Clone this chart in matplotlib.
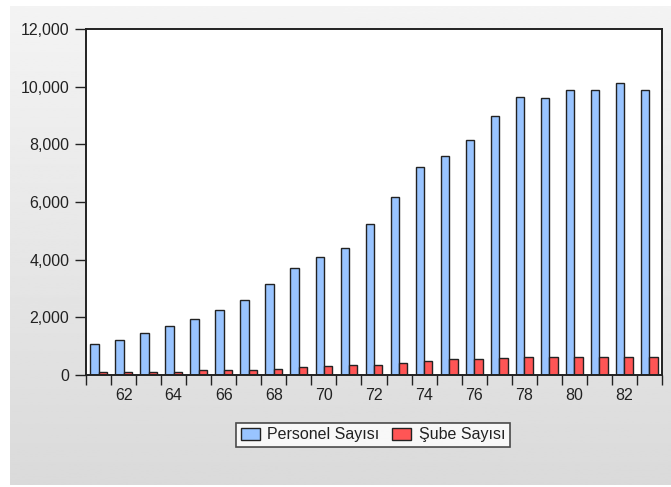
import numpy as np
import matplotlib.pyplot as plt
from matplotlib.ticker import FuncFormatter, FixedLocator

plt.rcParams['font.family'] = ['Liberation Sans', 'DejaVu Sans']

years = list(range(61, 84))
personel = [1080, 1200, 1470, 1700, 1940, 2260, 2590, 3160, 3700, 4080, 4410, 5250,
            6180, 7220, 7600, 8150, 9000, 9650, 9590, 9880, 9880, 10110, 9880]
sube = [110, 110, 110, 110, 170, 170, 170, 220, 265, 310, 350, 350,
        400, 500, 540, 540, 590, 635, 635, 635, 635, 635, 635]
labels = ['Personel Sayısı', 'Şube Sayısı']

W, H = 671, 487
fs = 11.5
fig = plt.figure(figsize=(W / 100, H / 100), dpi=100)
fig.patch.set_facecolor('white')

# gray gradient panel behind the chart
bg = fig.add_axes([10 / W, 2 / H, 661 / W, 479 / H], zorder=0)
grad = np.linspace(0.955, 0.855, 256).reshape(-1, 1)
bg.imshow(grad, aspect='auto', cmap='gray', vmin=0, vmax=1, extent=[0, 1, 0, 1])
bg.set_axis_off()

ax = fig.add_axes([86 / W, (H - 375) / H, 576 / W, 346 / H], zorder=1)
ax.set_facecolor('white')
x = np.arange(len(years))
w = 0.335
ax.bar(x - 0.167, personel, w, color='#99c4ff', edgecolor='#222222', linewidth=1.0, label=labels[0])
ax.bar(x + 0.167, sube, w, color='#ff5555', edgecolor='#222222', linewidth=1.0, label=labels[1])

ax.set_xlim(-0.5, len(years) - 0.5)
ax.set_ylim(0, 12000)
ax.set_yticks(range(0, 12001, 2000))
ax.yaxis.set_major_formatter(FuncFormatter(lambda v, p: f'{int(v):,}'))

ax.xaxis.set_major_locator(FixedLocator(np.arange(len(years) + 1) - 0.5))
ax.xaxis.set_major_formatter(FuncFormatter(lambda v, p: ''))
lab_idx = [i for i, y in enumerate(years) if y % 2 == 0]
ax.set_xticks(lab_idx, minor=True)
ax.set_xticklabels([str(years[i]) for i in lab_idx], minor=True)
ax.tick_params(axis='x', which='major', length=7, width=1, color='#222222')
ax.tick_params(axis='x', which='minor', length=0, pad=9, labelsize=fs, labelcolor='#222222')
ax.tick_params(axis='y', length=8, width=1, color='#222222', pad=4, labelsize=fs, labelcolor='#222222')

for s in ax.spines.values():
    s.set_linewidth(1.4)
    s.set_color('#222222')

leg = fig.legend(loc='center', bbox_to_anchor=(373 / W, (H - 435) / H), ncol=2,
                 frameon=True, fancybox=False, fontsize=fs, handlelength=1.2,
                 handleheight=0.8, handletextpad=0.45, columnspacing=0.8,
                 borderpad=0.28, borderaxespad=0)
leg.get_frame().set_edgecolor('#222222')
leg.get_frame().set_linewidth(1.2)
for t in leg.get_texts():
    t.set_color('#222222')

fig.savefig('out.png', dpi=100)
